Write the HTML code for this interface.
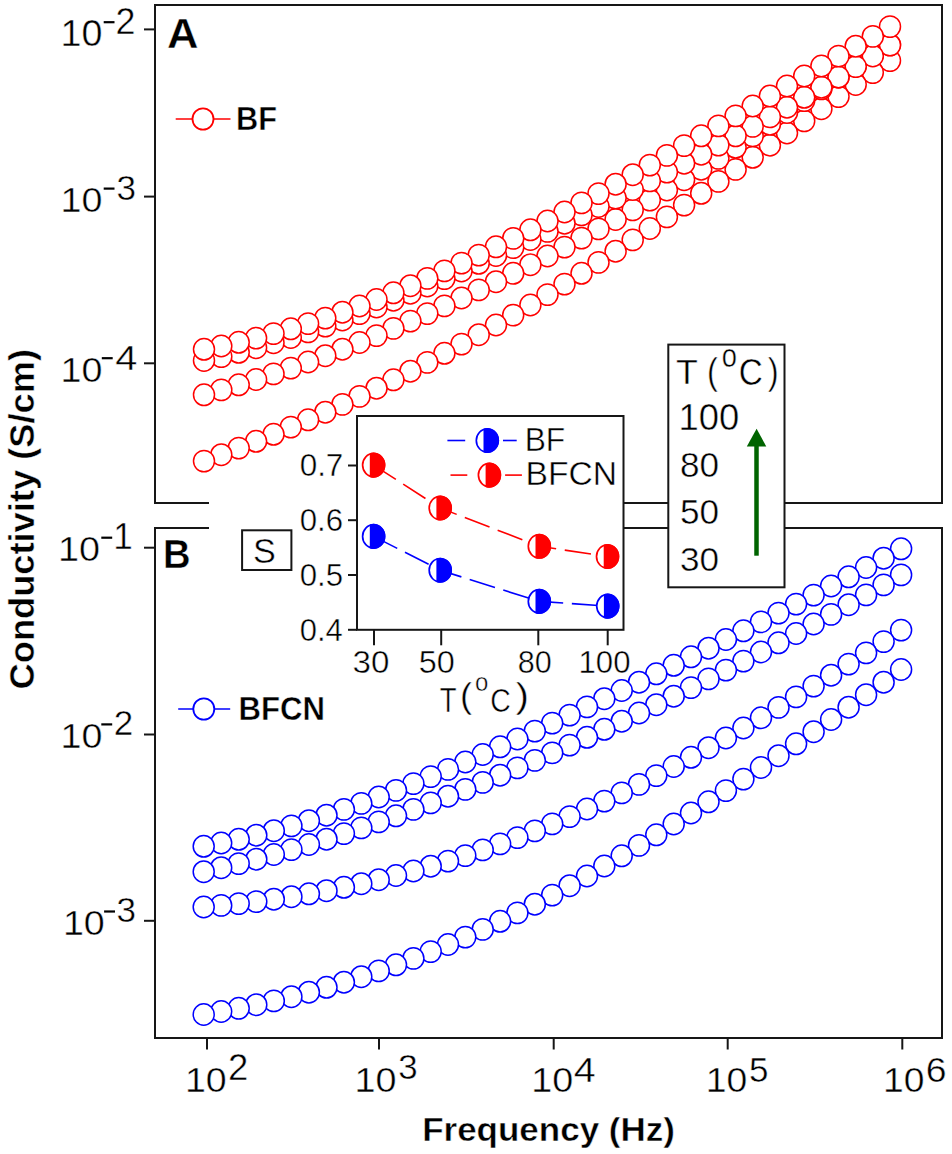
<!DOCTYPE html>
<html><head><meta charset="utf-8"><style>
html,body{margin:0;padding:0;background:#fff;}
svg{display:block;}
text{font-family:"Liberation Sans",sans-serif;stroke:#fff;stroke-width:0.45px;vector-effect:non-scaling-stroke;}
</style></head><body>
<svg width="952" height="1154" viewBox="0 0 952 1154">
<rect width="952" height="1154" fill="#fff"/>
<rect x="155" y="5" width="787" height="498" fill="none" stroke="#161616" stroke-width="2"/>
<rect x="155" y="528" width="787" height="510" fill="none" stroke="#161616" stroke-width="2"/>
<line x1="144" y1="29.4" x2="155" y2="29.4" stroke="#161616" stroke-width="2"/>
<line x1="144" y1="196.6" x2="155" y2="196.6" stroke="#161616" stroke-width="2"/>
<line x1="144" y1="363.3" x2="155" y2="363.3" stroke="#161616" stroke-width="2"/>
<line x1="144" y1="547.7" x2="155" y2="547.7" stroke="#161616" stroke-width="2"/>
<line x1="144" y1="734.5" x2="155" y2="734.5" stroke="#161616" stroke-width="2"/>
<line x1="144" y1="920.8" x2="155" y2="920.8" stroke="#161616" stroke-width="2"/>
<line x1="207" y1="1038" x2="207" y2="1049.5" stroke="#161616" stroke-width="2"/>
<line x1="379" y1="1038" x2="379" y2="1049.5" stroke="#161616" stroke-width="2"/>
<line x1="553.7" y1="1038" x2="553.7" y2="1049.5" stroke="#161616" stroke-width="2"/>
<line x1="727.7" y1="1038" x2="727.7" y2="1049.5" stroke="#161616" stroke-width="2"/>
<line x1="902.3" y1="1038" x2="902.3" y2="1049.5" stroke="#161616" stroke-width="2"/>
<rect x="209" y="480" width="148" height="70" fill="#fff" stroke="none" stroke-width="2"/>
<g fill="#fff" stroke="#f00" stroke-width="1.5">
<ellipse cx="890.0" cy="60.6" rx="10.5" ry="10.7"/>
<ellipse cx="872.8" cy="72.6" rx="10.5" ry="10.7"/>
<ellipse cx="855.7" cy="84.5" rx="10.5" ry="10.7"/>
<ellipse cx="838.5" cy="96.6" rx="10.5" ry="10.7"/>
<ellipse cx="821.4" cy="108.7" rx="10.5" ry="10.7"/>
<ellipse cx="804.2" cy="120.9" rx="10.5" ry="10.7"/>
<ellipse cx="787.0" cy="133.0" rx="10.5" ry="10.7"/>
<ellipse cx="769.9" cy="145.2" rx="10.5" ry="10.7"/>
<ellipse cx="752.7" cy="157.3" rx="10.5" ry="10.7"/>
<ellipse cx="735.6" cy="169.4" rx="10.5" ry="10.7"/>
<ellipse cx="718.4" cy="181.4" rx="10.5" ry="10.7"/>
<ellipse cx="701.2" cy="193.3" rx="10.5" ry="10.7"/>
<ellipse cx="684.1" cy="205.1" rx="10.5" ry="10.7"/>
<ellipse cx="666.9" cy="216.9" rx="10.5" ry="10.7"/>
<ellipse cx="649.8" cy="228.5" rx="10.5" ry="10.7"/>
<ellipse cx="632.7" cy="239.9" rx="10.5" ry="10.7"/>
<ellipse cx="615.6" cy="251.2" rx="10.5" ry="10.7"/>
<ellipse cx="598.5" cy="262.4" rx="10.5" ry="10.7"/>
<ellipse cx="581.5" cy="273.3" rx="10.5" ry="10.7"/>
<ellipse cx="564.5" cy="284.1" rx="10.5" ry="10.7"/>
<ellipse cx="547.5" cy="294.6" rx="10.5" ry="10.7"/>
<ellipse cx="530.4" cy="305.0" rx="10.5" ry="10.7"/>
<ellipse cx="513.2" cy="315.1" rx="10.5" ry="10.7"/>
<ellipse cx="496.0" cy="325.0" rx="10.5" ry="10.7"/>
<ellipse cx="478.7" cy="334.7" rx="10.5" ry="10.7"/>
<ellipse cx="461.5" cy="344.1" rx="10.5" ry="10.7"/>
<ellipse cx="444.4" cy="353.3" rx="10.5" ry="10.7"/>
<ellipse cx="427.3" cy="362.4" rx="10.5" ry="10.7"/>
<ellipse cx="410.4" cy="371.2" rx="10.5" ry="10.7"/>
<ellipse cx="393.4" cy="379.8" rx="10.5" ry="10.7"/>
<ellipse cx="376.5" cy="388.2" rx="10.5" ry="10.7"/>
<ellipse cx="359.5" cy="396.4" rx="10.5" ry="10.7"/>
<ellipse cx="342.4" cy="404.4" rx="10.5" ry="10.7"/>
<ellipse cx="325.3" cy="412.2" rx="10.5" ry="10.7"/>
<ellipse cx="308.1" cy="419.8" rx="10.5" ry="10.7"/>
<ellipse cx="290.8" cy="427.1" rx="10.5" ry="10.7"/>
<ellipse cx="273.5" cy="434.3" rx="10.5" ry="10.7"/>
<ellipse cx="256.1" cy="441.3" rx="10.5" ry="10.7"/>
<ellipse cx="238.7" cy="448.1" rx="10.5" ry="10.7"/>
<ellipse cx="221.3" cy="454.7" rx="10.5" ry="10.7"/>
<ellipse cx="204.0" cy="461.1" rx="10.5" ry="10.7"/>
<ellipse cx="890.0" cy="44.8" rx="10.5" ry="10.7"/>
<ellipse cx="872.8" cy="55.1" rx="10.5" ry="10.7"/>
<ellipse cx="855.7" cy="66.0" rx="10.5" ry="10.7"/>
<ellipse cx="838.5" cy="77.2" rx="10.5" ry="10.7"/>
<ellipse cx="821.4" cy="88.8" rx="10.5" ry="10.7"/>
<ellipse cx="804.2" cy="100.6" rx="10.5" ry="10.7"/>
<ellipse cx="787.0" cy="112.5" rx="10.5" ry="10.7"/>
<ellipse cx="769.9" cy="124.3" rx="10.5" ry="10.7"/>
<ellipse cx="752.7" cy="135.9" rx="10.5" ry="10.7"/>
<ellipse cx="735.6" cy="147.3" rx="10.5" ry="10.7"/>
<ellipse cx="718.4" cy="158.4" rx="10.5" ry="10.7"/>
<ellipse cx="701.2" cy="169.2" rx="10.5" ry="10.7"/>
<ellipse cx="684.1" cy="179.7" rx="10.5" ry="10.7"/>
<ellipse cx="666.9" cy="190.0" rx="10.5" ry="10.7"/>
<ellipse cx="649.8" cy="200.1" rx="10.5" ry="10.7"/>
<ellipse cx="632.7" cy="209.9" rx="10.5" ry="10.7"/>
<ellipse cx="615.6" cy="219.5" rx="10.5" ry="10.7"/>
<ellipse cx="598.5" cy="228.9" rx="10.5" ry="10.7"/>
<ellipse cx="581.5" cy="238.1" rx="10.5" ry="10.7"/>
<ellipse cx="564.5" cy="247.1" rx="10.5" ry="10.7"/>
<ellipse cx="547.5" cy="256.0" rx="10.5" ry="10.7"/>
<ellipse cx="530.4" cy="264.7" rx="10.5" ry="10.7"/>
<ellipse cx="513.2" cy="273.3" rx="10.5" ry="10.7"/>
<ellipse cx="496.0" cy="281.7" rx="10.5" ry="10.7"/>
<ellipse cx="478.7" cy="289.9" rx="10.5" ry="10.7"/>
<ellipse cx="461.5" cy="298.0" rx="10.5" ry="10.7"/>
<ellipse cx="444.4" cy="305.9" rx="10.5" ry="10.7"/>
<ellipse cx="427.3" cy="313.6" rx="10.5" ry="10.7"/>
<ellipse cx="410.4" cy="321.1" rx="10.5" ry="10.7"/>
<ellipse cx="393.4" cy="328.4" rx="10.5" ry="10.7"/>
<ellipse cx="376.5" cy="335.6" rx="10.5" ry="10.7"/>
<ellipse cx="359.5" cy="342.5" rx="10.5" ry="10.7"/>
<ellipse cx="342.4" cy="349.2" rx="10.5" ry="10.7"/>
<ellipse cx="325.3" cy="355.7" rx="10.5" ry="10.7"/>
<ellipse cx="308.1" cy="362.0" rx="10.5" ry="10.7"/>
<ellipse cx="290.8" cy="368.1" rx="10.5" ry="10.7"/>
<ellipse cx="273.5" cy="373.9" rx="10.5" ry="10.7"/>
<ellipse cx="256.1" cy="379.5" rx="10.5" ry="10.7"/>
<ellipse cx="238.7" cy="384.8" rx="10.5" ry="10.7"/>
<ellipse cx="221.3" cy="389.9" rx="10.5" ry="10.7"/>
<ellipse cx="204.0" cy="394.8" rx="10.5" ry="10.7"/>
<ellipse cx="890.0" cy="45.1" rx="10.5" ry="10.7"/>
<ellipse cx="872.8" cy="56.0" rx="10.5" ry="10.7"/>
<ellipse cx="855.7" cy="66.6" rx="10.5" ry="10.7"/>
<ellipse cx="838.5" cy="77.0" rx="10.5" ry="10.7"/>
<ellipse cx="821.4" cy="87.2" rx="10.5" ry="10.7"/>
<ellipse cx="804.2" cy="97.3" rx="10.5" ry="10.7"/>
<ellipse cx="787.0" cy="107.2" rx="10.5" ry="10.7"/>
<ellipse cx="769.9" cy="116.9" rx="10.5" ry="10.7"/>
<ellipse cx="752.7" cy="126.4" rx="10.5" ry="10.7"/>
<ellipse cx="735.6" cy="135.8" rx="10.5" ry="10.7"/>
<ellipse cx="718.4" cy="145.1" rx="10.5" ry="10.7"/>
<ellipse cx="701.2" cy="154.2" rx="10.5" ry="10.7"/>
<ellipse cx="684.1" cy="163.2" rx="10.5" ry="10.7"/>
<ellipse cx="666.9" cy="172.1" rx="10.5" ry="10.7"/>
<ellipse cx="649.8" cy="180.9" rx="10.5" ry="10.7"/>
<ellipse cx="632.7" cy="189.5" rx="10.5" ry="10.7"/>
<ellipse cx="615.6" cy="198.1" rx="10.5" ry="10.7"/>
<ellipse cx="598.5" cy="206.5" rx="10.5" ry="10.7"/>
<ellipse cx="581.5" cy="214.9" rx="10.5" ry="10.7"/>
<ellipse cx="564.5" cy="223.2" rx="10.5" ry="10.7"/>
<ellipse cx="547.5" cy="231.4" rx="10.5" ry="10.7"/>
<ellipse cx="530.4" cy="239.5" rx="10.5" ry="10.7"/>
<ellipse cx="513.2" cy="247.6" rx="10.5" ry="10.7"/>
<ellipse cx="496.0" cy="255.5" rx="10.5" ry="10.7"/>
<ellipse cx="478.7" cy="263.3" rx="10.5" ry="10.7"/>
<ellipse cx="461.5" cy="271.0" rx="10.5" ry="10.7"/>
<ellipse cx="444.4" cy="278.6" rx="10.5" ry="10.7"/>
<ellipse cx="427.3" cy="286.0" rx="10.5" ry="10.7"/>
<ellipse cx="410.4" cy="293.2" rx="10.5" ry="10.7"/>
<ellipse cx="393.4" cy="300.2" rx="10.5" ry="10.7"/>
<ellipse cx="376.5" cy="307.0" rx="10.5" ry="10.7"/>
<ellipse cx="359.5" cy="313.6" rx="10.5" ry="10.7"/>
<ellipse cx="342.4" cy="320.0" rx="10.5" ry="10.7"/>
<ellipse cx="325.3" cy="326.1" rx="10.5" ry="10.7"/>
<ellipse cx="308.1" cy="331.9" rx="10.5" ry="10.7"/>
<ellipse cx="290.8" cy="337.5" rx="10.5" ry="10.7"/>
<ellipse cx="273.5" cy="342.7" rx="10.5" ry="10.7"/>
<ellipse cx="256.1" cy="347.7" rx="10.5" ry="10.7"/>
<ellipse cx="238.7" cy="352.3" rx="10.5" ry="10.7"/>
<ellipse cx="221.3" cy="356.6" rx="10.5" ry="10.7"/>
<ellipse cx="204.0" cy="360.5" rx="10.5" ry="10.7"/>
<ellipse cx="890.0" cy="26.6" rx="10.5" ry="10.7"/>
<ellipse cx="872.8" cy="36.4" rx="10.5" ry="10.7"/>
<ellipse cx="855.7" cy="46.2" rx="10.5" ry="10.7"/>
<ellipse cx="838.5" cy="56.1" rx="10.5" ry="10.7"/>
<ellipse cx="821.4" cy="66.0" rx="10.5" ry="10.7"/>
<ellipse cx="804.2" cy="76.0" rx="10.5" ry="10.7"/>
<ellipse cx="787.0" cy="86.0" rx="10.5" ry="10.7"/>
<ellipse cx="769.9" cy="96.0" rx="10.5" ry="10.7"/>
<ellipse cx="752.7" cy="106.0" rx="10.5" ry="10.7"/>
<ellipse cx="735.6" cy="115.9" rx="10.5" ry="10.7"/>
<ellipse cx="718.4" cy="125.9" rx="10.5" ry="10.7"/>
<ellipse cx="701.2" cy="135.8" rx="10.5" ry="10.7"/>
<ellipse cx="684.1" cy="145.6" rx="10.5" ry="10.7"/>
<ellipse cx="666.9" cy="155.4" rx="10.5" ry="10.7"/>
<ellipse cx="649.8" cy="165.1" rx="10.5" ry="10.7"/>
<ellipse cx="632.7" cy="174.7" rx="10.5" ry="10.7"/>
<ellipse cx="615.6" cy="184.2" rx="10.5" ry="10.7"/>
<ellipse cx="598.5" cy="193.6" rx="10.5" ry="10.7"/>
<ellipse cx="581.5" cy="202.9" rx="10.5" ry="10.7"/>
<ellipse cx="564.5" cy="212.0" rx="10.5" ry="10.7"/>
<ellipse cx="547.5" cy="221.0" rx="10.5" ry="10.7"/>
<ellipse cx="530.4" cy="229.8" rx="10.5" ry="10.7"/>
<ellipse cx="513.2" cy="238.4" rx="10.5" ry="10.7"/>
<ellipse cx="496.0" cy="246.8" rx="10.5" ry="10.7"/>
<ellipse cx="478.7" cy="255.1" rx="10.5" ry="10.7"/>
<ellipse cx="461.5" cy="263.1" rx="10.5" ry="10.7"/>
<ellipse cx="444.4" cy="270.9" rx="10.5" ry="10.7"/>
<ellipse cx="427.3" cy="278.4" rx="10.5" ry="10.7"/>
<ellipse cx="410.4" cy="285.7" rx="10.5" ry="10.7"/>
<ellipse cx="393.4" cy="292.8" rx="10.5" ry="10.7"/>
<ellipse cx="376.5" cy="299.5" rx="10.5" ry="10.7"/>
<ellipse cx="359.5" cy="306.0" rx="10.5" ry="10.7"/>
<ellipse cx="342.4" cy="312.2" rx="10.5" ry="10.7"/>
<ellipse cx="325.3" cy="318.1" rx="10.5" ry="10.7"/>
<ellipse cx="308.1" cy="323.6" rx="10.5" ry="10.7"/>
<ellipse cx="290.8" cy="328.8" rx="10.5" ry="10.7"/>
<ellipse cx="273.5" cy="333.6" rx="10.5" ry="10.7"/>
<ellipse cx="256.1" cy="338.1" rx="10.5" ry="10.7"/>
<ellipse cx="238.7" cy="342.3" rx="10.5" ry="10.7"/>
<ellipse cx="221.3" cy="346.0" rx="10.5" ry="10.7"/>
<ellipse cx="204.0" cy="349.3" rx="10.5" ry="10.7"/>
</g>
<g fill="#fff" stroke="#00f" stroke-width="1.5">
<ellipse cx="901.1" cy="669.5" rx="10.5" ry="10.7"/>
<ellipse cx="883.6" cy="682.2" rx="10.5" ry="10.7"/>
<ellipse cx="866.1" cy="694.7" rx="10.5" ry="10.7"/>
<ellipse cx="848.6" cy="707.2" rx="10.5" ry="10.7"/>
<ellipse cx="831.1" cy="719.5" rx="10.5" ry="10.7"/>
<ellipse cx="813.6" cy="731.7" rx="10.5" ry="10.7"/>
<ellipse cx="796.1" cy="743.8" rx="10.5" ry="10.7"/>
<ellipse cx="778.5" cy="755.7" rx="10.5" ry="10.7"/>
<ellipse cx="761.0" cy="767.5" rx="10.5" ry="10.7"/>
<ellipse cx="743.4" cy="779.1" rx="10.5" ry="10.7"/>
<ellipse cx="725.9" cy="790.6" rx="10.5" ry="10.7"/>
<ellipse cx="708.5" cy="801.8" rx="10.5" ry="10.7"/>
<ellipse cx="691.0" cy="813.0" rx="10.5" ry="10.7"/>
<ellipse cx="673.7" cy="824.0" rx="10.5" ry="10.7"/>
<ellipse cx="656.3" cy="834.8" rx="10.5" ry="10.7"/>
<ellipse cx="639.0" cy="845.4" rx="10.5" ry="10.7"/>
<ellipse cx="621.7" cy="855.8" rx="10.5" ry="10.7"/>
<ellipse cx="604.3" cy="866.0" rx="10.5" ry="10.7"/>
<ellipse cx="587.0" cy="876.0" rx="10.5" ry="10.7"/>
<ellipse cx="569.6" cy="885.7" rx="10.5" ry="10.7"/>
<ellipse cx="552.2" cy="895.1" rx="10.5" ry="10.7"/>
<ellipse cx="534.8" cy="904.2" rx="10.5" ry="10.7"/>
<ellipse cx="517.4" cy="912.9" rx="10.5" ry="10.7"/>
<ellipse cx="500.1" cy="921.3" rx="10.5" ry="10.7"/>
<ellipse cx="482.7" cy="929.4" rx="10.5" ry="10.7"/>
<ellipse cx="465.3" cy="937.1" rx="10.5" ry="10.7"/>
<ellipse cx="448.0" cy="944.5" rx="10.5" ry="10.7"/>
<ellipse cx="430.7" cy="951.6" rx="10.5" ry="10.7"/>
<ellipse cx="413.4" cy="958.4" rx="10.5" ry="10.7"/>
<ellipse cx="396.0" cy="964.8" rx="10.5" ry="10.7"/>
<ellipse cx="378.7" cy="970.9" rx="10.5" ry="10.7"/>
<ellipse cx="361.3" cy="976.7" rx="10.5" ry="10.7"/>
<ellipse cx="343.9" cy="982.2" rx="10.5" ry="10.7"/>
<ellipse cx="326.5" cy="987.3" rx="10.5" ry="10.7"/>
<ellipse cx="308.9" cy="992.2" rx="10.5" ry="10.7"/>
<ellipse cx="291.4" cy="996.7" rx="10.5" ry="10.7"/>
<ellipse cx="273.8" cy="1000.9" rx="10.5" ry="10.7"/>
<ellipse cx="256.3" cy="1004.7" rx="10.5" ry="10.7"/>
<ellipse cx="238.7" cy="1008.3" rx="10.5" ry="10.7"/>
<ellipse cx="221.2" cy="1011.5" rx="10.5" ry="10.7"/>
<ellipse cx="203.7" cy="1014.5" rx="10.5" ry="10.7"/>
<ellipse cx="901.1" cy="630.1" rx="10.5" ry="10.7"/>
<ellipse cx="883.6" cy="641.6" rx="10.5" ry="10.7"/>
<ellipse cx="866.1" cy="652.9" rx="10.5" ry="10.7"/>
<ellipse cx="848.6" cy="664.1" rx="10.5" ry="10.7"/>
<ellipse cx="831.1" cy="675.2" rx="10.5" ry="10.7"/>
<ellipse cx="813.6" cy="686.1" rx="10.5" ry="10.7"/>
<ellipse cx="796.1" cy="696.9" rx="10.5" ry="10.7"/>
<ellipse cx="778.5" cy="707.4" rx="10.5" ry="10.7"/>
<ellipse cx="761.0" cy="717.8" rx="10.5" ry="10.7"/>
<ellipse cx="743.4" cy="728.0" rx="10.5" ry="10.7"/>
<ellipse cx="725.9" cy="738.0" rx="10.5" ry="10.7"/>
<ellipse cx="708.5" cy="747.7" rx="10.5" ry="10.7"/>
<ellipse cx="691.0" cy="757.3" rx="10.5" ry="10.7"/>
<ellipse cx="673.7" cy="766.5" rx="10.5" ry="10.7"/>
<ellipse cx="656.3" cy="775.6" rx="10.5" ry="10.7"/>
<ellipse cx="639.0" cy="784.4" rx="10.5" ry="10.7"/>
<ellipse cx="621.7" cy="792.9" rx="10.5" ry="10.7"/>
<ellipse cx="604.3" cy="801.1" rx="10.5" ry="10.7"/>
<ellipse cx="587.0" cy="809.0" rx="10.5" ry="10.7"/>
<ellipse cx="569.6" cy="816.6" rx="10.5" ry="10.7"/>
<ellipse cx="552.2" cy="823.9" rx="10.5" ry="10.7"/>
<ellipse cx="534.8" cy="830.9" rx="10.5" ry="10.7"/>
<ellipse cx="517.4" cy="837.6" rx="10.5" ry="10.7"/>
<ellipse cx="500.1" cy="843.9" rx="10.5" ry="10.7"/>
<ellipse cx="482.7" cy="849.9" rx="10.5" ry="10.7"/>
<ellipse cx="465.3" cy="855.6" rx="10.5" ry="10.7"/>
<ellipse cx="448.0" cy="861.1" rx="10.5" ry="10.7"/>
<ellipse cx="430.7" cy="866.2" rx="10.5" ry="10.7"/>
<ellipse cx="413.4" cy="871.0" rx="10.5" ry="10.7"/>
<ellipse cx="396.0" cy="875.5" rx="10.5" ry="10.7"/>
<ellipse cx="378.7" cy="879.7" rx="10.5" ry="10.7"/>
<ellipse cx="361.3" cy="883.7" rx="10.5" ry="10.7"/>
<ellipse cx="343.9" cy="887.3" rx="10.5" ry="10.7"/>
<ellipse cx="326.5" cy="890.7" rx="10.5" ry="10.7"/>
<ellipse cx="308.9" cy="893.8" rx="10.5" ry="10.7"/>
<ellipse cx="291.4" cy="896.7" rx="10.5" ry="10.7"/>
<ellipse cx="273.8" cy="899.2" rx="10.5" ry="10.7"/>
<ellipse cx="256.3" cy="901.6" rx="10.5" ry="10.7"/>
<ellipse cx="238.7" cy="903.6" rx="10.5" ry="10.7"/>
<ellipse cx="221.2" cy="905.4" rx="10.5" ry="10.7"/>
<ellipse cx="203.7" cy="907.0" rx="10.5" ry="10.7"/>
<ellipse cx="901.1" cy="574.9" rx="10.5" ry="10.7"/>
<ellipse cx="883.6" cy="584.9" rx="10.5" ry="10.7"/>
<ellipse cx="866.1" cy="594.9" rx="10.5" ry="10.7"/>
<ellipse cx="848.6" cy="604.7" rx="10.5" ry="10.7"/>
<ellipse cx="831.1" cy="614.4" rx="10.5" ry="10.7"/>
<ellipse cx="813.6" cy="624.0" rx="10.5" ry="10.7"/>
<ellipse cx="796.1" cy="633.5" rx="10.5" ry="10.7"/>
<ellipse cx="778.5" cy="642.8" rx="10.5" ry="10.7"/>
<ellipse cx="761.0" cy="652.0" rx="10.5" ry="10.7"/>
<ellipse cx="743.4" cy="661.1" rx="10.5" ry="10.7"/>
<ellipse cx="725.9" cy="670.1" rx="10.5" ry="10.7"/>
<ellipse cx="708.5" cy="678.9" rx="10.5" ry="10.7"/>
<ellipse cx="691.0" cy="687.6" rx="10.5" ry="10.7"/>
<ellipse cx="673.7" cy="696.2" rx="10.5" ry="10.7"/>
<ellipse cx="656.3" cy="704.7" rx="10.5" ry="10.7"/>
<ellipse cx="639.0" cy="713.0" rx="10.5" ry="10.7"/>
<ellipse cx="621.7" cy="721.2" rx="10.5" ry="10.7"/>
<ellipse cx="604.3" cy="729.3" rx="10.5" ry="10.7"/>
<ellipse cx="587.0" cy="737.3" rx="10.5" ry="10.7"/>
<ellipse cx="569.6" cy="745.1" rx="10.5" ry="10.7"/>
<ellipse cx="552.2" cy="752.9" rx="10.5" ry="10.7"/>
<ellipse cx="534.8" cy="760.4" rx="10.5" ry="10.7"/>
<ellipse cx="517.4" cy="767.9" rx="10.5" ry="10.7"/>
<ellipse cx="500.1" cy="775.2" rx="10.5" ry="10.7"/>
<ellipse cx="482.7" cy="782.4" rx="10.5" ry="10.7"/>
<ellipse cx="465.3" cy="789.4" rx="10.5" ry="10.7"/>
<ellipse cx="448.0" cy="796.2" rx="10.5" ry="10.7"/>
<ellipse cx="430.7" cy="802.9" rx="10.5" ry="10.7"/>
<ellipse cx="413.4" cy="809.4" rx="10.5" ry="10.7"/>
<ellipse cx="396.0" cy="815.8" rx="10.5" ry="10.7"/>
<ellipse cx="378.7" cy="821.9" rx="10.5" ry="10.7"/>
<ellipse cx="361.3" cy="827.9" rx="10.5" ry="10.7"/>
<ellipse cx="343.9" cy="833.6" rx="10.5" ry="10.7"/>
<ellipse cx="326.5" cy="839.2" rx="10.5" ry="10.7"/>
<ellipse cx="308.9" cy="844.5" rx="10.5" ry="10.7"/>
<ellipse cx="291.4" cy="849.6" rx="10.5" ry="10.7"/>
<ellipse cx="273.8" cy="854.5" rx="10.5" ry="10.7"/>
<ellipse cx="256.3" cy="859.2" rx="10.5" ry="10.7"/>
<ellipse cx="238.7" cy="863.6" rx="10.5" ry="10.7"/>
<ellipse cx="221.2" cy="867.7" rx="10.5" ry="10.7"/>
<ellipse cx="203.7" cy="871.7" rx="10.5" ry="10.7"/>
<ellipse cx="901.1" cy="548.8" rx="10.5" ry="10.7"/>
<ellipse cx="883.6" cy="558.2" rx="10.5" ry="10.7"/>
<ellipse cx="866.1" cy="567.5" rx="10.5" ry="10.7"/>
<ellipse cx="848.6" cy="576.8" rx="10.5" ry="10.7"/>
<ellipse cx="831.1" cy="586.0" rx="10.5" ry="10.7"/>
<ellipse cx="813.6" cy="595.1" rx="10.5" ry="10.7"/>
<ellipse cx="796.1" cy="604.1" rx="10.5" ry="10.7"/>
<ellipse cx="778.5" cy="613.1" rx="10.5" ry="10.7"/>
<ellipse cx="761.0" cy="621.9" rx="10.5" ry="10.7"/>
<ellipse cx="743.4" cy="630.8" rx="10.5" ry="10.7"/>
<ellipse cx="725.9" cy="639.5" rx="10.5" ry="10.7"/>
<ellipse cx="708.5" cy="648.2" rx="10.5" ry="10.7"/>
<ellipse cx="691.0" cy="656.8" rx="10.5" ry="10.7"/>
<ellipse cx="673.7" cy="665.3" rx="10.5" ry="10.7"/>
<ellipse cx="656.3" cy="673.8" rx="10.5" ry="10.7"/>
<ellipse cx="639.0" cy="682.2" rx="10.5" ry="10.7"/>
<ellipse cx="621.7" cy="690.5" rx="10.5" ry="10.7"/>
<ellipse cx="604.3" cy="698.7" rx="10.5" ry="10.7"/>
<ellipse cx="587.0" cy="706.9" rx="10.5" ry="10.7"/>
<ellipse cx="569.6" cy="715.1" rx="10.5" ry="10.7"/>
<ellipse cx="552.2" cy="723.1" rx="10.5" ry="10.7"/>
<ellipse cx="534.8" cy="731.1" rx="10.5" ry="10.7"/>
<ellipse cx="517.4" cy="739.0" rx="10.5" ry="10.7"/>
<ellipse cx="500.1" cy="746.8" rx="10.5" ry="10.7"/>
<ellipse cx="482.7" cy="754.5" rx="10.5" ry="10.7"/>
<ellipse cx="465.3" cy="762.0" rx="10.5" ry="10.7"/>
<ellipse cx="448.0" cy="769.4" rx="10.5" ry="10.7"/>
<ellipse cx="430.7" cy="776.6" rx="10.5" ry="10.7"/>
<ellipse cx="413.4" cy="783.6" rx="10.5" ry="10.7"/>
<ellipse cx="396.0" cy="790.4" rx="10.5" ry="10.7"/>
<ellipse cx="378.7" cy="797.0" rx="10.5" ry="10.7"/>
<ellipse cx="361.3" cy="803.4" rx="10.5" ry="10.7"/>
<ellipse cx="343.9" cy="809.4" rx="10.5" ry="10.7"/>
<ellipse cx="326.5" cy="815.2" rx="10.5" ry="10.7"/>
<ellipse cx="308.9" cy="820.7" rx="10.5" ry="10.7"/>
<ellipse cx="291.4" cy="825.9" rx="10.5" ry="10.7"/>
<ellipse cx="273.8" cy="830.7" rx="10.5" ry="10.7"/>
<ellipse cx="256.3" cy="835.2" rx="10.5" ry="10.7"/>
<ellipse cx="238.7" cy="839.3" rx="10.5" ry="10.7"/>
<ellipse cx="221.2" cy="843.0" rx="10.5" ry="10.7"/>
<ellipse cx="203.7" cy="846.3" rx="10.5" ry="10.7"/>
</g>
<text transform="matrix(0.4364,0,0,0.4229,167.09,48.30)" font-size="100" font-weight="bold" fill="#000">A</text>
<text transform="matrix(0.3820,0,0,0.4116,163.03,567.90)" font-size="100" font-weight="bold" fill="#000">B</text>
<g stroke="#f00" stroke-width="1.8" fill="none">
<line x1="175.7" y1="119" x2="192.5" y2="119" stroke="#f00" stroke-width="1.5"/>
<line x1="213.5" y1="119" x2="230.5" y2="119" stroke="#f00" stroke-width="1.5"/>
<ellipse cx="203" cy="119" rx="10.5" ry="10.7"/>
</g>
<text transform="matrix(0.3073,0,0,0.3386,235.95,129.66)" font-size="100" font-weight="bold" fill="#000">BF</text>
<g stroke="#00f" stroke-width="1.8" fill="none">
<line x1="178.2" y1="709" x2="193.5" y2="709" stroke="#00f" stroke-width="1.5"/>
<line x1="214.5" y1="709" x2="230.2" y2="709" stroke="#00f" stroke-width="1.5"/>
<ellipse cx="203.8" cy="709" rx="10.5" ry="10.7"/>
</g>
<text transform="matrix(0.3117,0,0,0.3352,238.42,720.16)" font-size="100" font-weight="bold" fill="#000">BFCN</text>
<text transform="matrix(0.3768,0,0,0.3662,60.49,45.93)" font-size="100" fill="#000">10</text>
<rect x="103.7" y="21.099999999999998" width="10.799999999999997" height="2.2" fill="#000" stroke="none" stroke-width="2"/>
<text transform="matrix(0.3587,0,0,0.3657,115.61,33.60)" font-size="100" fill="#000">2</text>
<text transform="matrix(0.3768,0,0,0.3592,60.49,212.34)" font-size="100" fill="#000">10</text>
<rect x="103.7" y="187.5" width="10.799999999999997" height="2.2" fill="#000" stroke="none" stroke-width="2"/>
<text transform="matrix(0.3511,0,0,0.3592,116.50,200.04)" font-size="100" fill="#000">3</text>
<text transform="matrix(0.3768,0,0,0.3535,60.49,381.95)" font-size="100" fill="#000">10</text>
<rect x="101.8" y="357.09999999999997" width="10.900000000000006" height="2.2" fill="#000" stroke="none" stroke-width="2"/>
<text transform="matrix(0.3980,0,0,0.3514,115.20,369.50)" font-size="100" fill="#000">4</text>
<text transform="matrix(0.3778,0,0,0.3592,58.08,561.44)" font-size="100" fill="#000">10</text>
<rect x="101.3" y="536.6" width="10.900000000000006" height="2.2" fill="#000" stroke="none" stroke-width="2"/>
<text transform="matrix(0.3512,0,0,0.3623,113.19,549.00)" font-size="100" fill="#000">1</text>
<text transform="matrix(0.3768,0,0,0.3521,60.49,747.85)" font-size="100" fill="#000">10</text>
<rect x="101.3" y="723.3" width="10.900000000000006" height="2.2" fill="#000" stroke="none" stroke-width="2"/>
<text transform="matrix(0.3500,0,0,0.3500,113.75,735.40)" font-size="100" fill="#000">2</text>
<text transform="matrix(0.3768,0,0,0.3535,62.89,934.75)" font-size="100" fill="#000">10</text>
<rect x="104.1" y="910.4" width="10.900000000000006" height="2.2" fill="#000" stroke="none" stroke-width="2"/>
<text transform="matrix(0.3511,0,0,0.3592,116.50,922.44)" font-size="100" fill="#000">3</text>
<text transform="matrix(0.3758,0,0,0.3563,184.89,1091.74)" font-size="100" fill="#000">10</text>
<text transform="matrix(0.3652,0,0,0.3671,228.07,1080.40)" font-size="100" fill="#000">2</text>
<text transform="matrix(0.3778,0,0,0.3563,354.58,1091.74)" font-size="100" fill="#000">10</text>
<text transform="matrix(0.3489,0,0,0.3493,398.20,1079.15)" font-size="100" fill="#000">3</text>
<text transform="matrix(0.3778,0,0,0.3563,531.18,1091.74)" font-size="100" fill="#000">10</text>
<text transform="matrix(0.3941,0,0,0.3543,573.81,1082.00)" font-size="100" fill="#000">4</text>
<text transform="matrix(0.3737,0,0,0.3563,705.81,1091.74)" font-size="100" fill="#000">10</text>
<text transform="matrix(0.3500,0,0,0.3543,749.00,1081.65)" font-size="100" fill="#000">5</text>
<text transform="matrix(0.3727,0,0,0.3563,882.92,1091.74)" font-size="100" fill="#000">10</text>
<text transform="matrix(0.3739,0,0,0.3549,925.63,1081.65)" font-size="100" fill="#000">6</text>
<text transform="matrix(0.3501,0,0,0.3406,422.15,1141.00)" font-size="100" font-weight="bold" fill="#000">Frequency (Hz)</text>
<text transform="matrix(0,-0.3626,0.3594,0,33.80,689.45)" font-size="100" font-weight="bold">Conductivity (S/cm)</text>
<rect x="242.1" y="530.3" width="49.3" height="39.7" fill="#fff" stroke="#161616" stroke-width="2"/>
<text transform="matrix(0.3421,0,0,0.3479,252.89,563.45)" font-size="100" fill="#000">S</text>
<rect x="357" y="416" width="266.5" height="213.8" fill="#fff" stroke="#161616" stroke-width="2"/>
<line x1="348" y1="465.5" x2="357" y2="465.5" stroke="#161616" stroke-width="2"/>
<line x1="348" y1="520.2" x2="357" y2="520.2" stroke="#161616" stroke-width="2"/>
<line x1="348" y1="575" x2="357" y2="575" stroke="#161616" stroke-width="2"/>
<line x1="348" y1="629.8" x2="357" y2="629.8" stroke="#161616" stroke-width="2"/>
<line x1="374" y1="629.8" x2="374" y2="645.3" stroke="#161616" stroke-width="2"/>
<line x1="441.2" y1="629.8" x2="441.2" y2="645.3" stroke="#161616" stroke-width="2"/>
<line x1="538.3" y1="629.8" x2="538.3" y2="645.3" stroke="#161616" stroke-width="2"/>
<line x1="607.7" y1="629.8" x2="607.7" y2="645.3" stroke="#161616" stroke-width="2"/>
<text transform="matrix(0.3146,0,0,0.3127,299.64,476.29)" font-size="100" fill="#000">0.7</text>
<text transform="matrix(0.3122,0,0,0.3127,299.65,530.99)" font-size="100" fill="#000">0.6</text>
<text transform="matrix(0.3122,0,0,0.3127,299.65,585.99)" font-size="100" fill="#000">0.5</text>
<text transform="matrix(0.3098,0,0,0.3127,299.66,640.89)" font-size="100" fill="#000">0.4</text>
<text transform="matrix(0.3311,0,0,0.3141,352.48,673.19)" font-size="100" fill="#000">30</text>
<text transform="matrix(0.3243,0,0,0.3141,418.70,673.19)" font-size="100" fill="#000">50</text>
<text transform="matrix(0.3058,0,0,0.3141,517.78,673.19)" font-size="100" fill="#000">80</text>
<text transform="matrix(0.3116,0,0,0.3141,578.51,673.19)" font-size="100" fill="#000">100</text>
<text transform="matrix(0.2754,0,0,0.3429,439.75,712.16)" font-size="100" fill="#000">T</text>
<text transform="matrix(0.3654,0,0,0.3468,460.11,708.32)" font-size="100" fill="#000">(</text>
<text transform="matrix(0.2396,0,0,0.2491,475.04,691.25)" font-size="100" fill="#000">o</text>
<text transform="matrix(0.2841,0,0,0.3408,490.28,712.16)" font-size="100" fill="#000">C</text>
<text transform="matrix(0.4038,0,0,0.3468,515.50,708.32)" font-size="100" fill="#000">)</text>
<path d="M373.6,465.1 L440.2,508.0 L539.3,546.3 L607.5,556.5" fill="none" stroke="#f00" stroke-width="1.6" stroke-dasharray="26.5 8.7"/>
<ellipse cx="373.6" cy="465.1" rx="11.0" ry="11.7" fill="#fff" stroke="#f00" stroke-width="1.7"/>
<path d="M370.60,453.84 A11.0,11.7 0 1 1 370.60,476.36 Z" fill="#f00" stroke="#f00" stroke-width="1.6"/>
<ellipse cx="440.2" cy="508.0" rx="11.0" ry="11.7" fill="#fff" stroke="#f00" stroke-width="1.7"/>
<path d="M437.20,496.74 A11.0,11.7 0 1 1 437.20,519.26 Z" fill="#f00" stroke="#f00" stroke-width="1.6"/>
<ellipse cx="539.3" cy="546.3" rx="11.0" ry="11.7" fill="#fff" stroke="#f00" stroke-width="1.7"/>
<path d="M536.30,535.04 A11.0,11.7 0 1 1 536.30,557.56 Z" fill="#f00" stroke="#f00" stroke-width="1.6"/>
<ellipse cx="607.5" cy="556.5" rx="11.0" ry="11.7" fill="#fff" stroke="#f00" stroke-width="1.7"/>
<path d="M604.50,545.24 A11.0,11.7 0 1 1 604.50,567.76 Z" fill="#f00" stroke="#f00" stroke-width="1.6"/>
<path d="M373.6,536.4 L440.2,570.2 L539.3,601.4 L607.7,606.1" fill="none" stroke="#00f" stroke-width="1.6" stroke-dasharray="26.5 8.7"/>
<ellipse cx="373.6" cy="536.4" rx="11.0" ry="11.7" fill="#fff" stroke="#00f" stroke-width="1.7"/>
<path d="M370.60,525.14 A11.0,11.7 0 1 1 370.60,547.66 Z" fill="#00f" stroke="#00f" stroke-width="1.6"/>
<ellipse cx="440.2" cy="570.2" rx="11.0" ry="11.7" fill="#fff" stroke="#00f" stroke-width="1.7"/>
<path d="M437.20,558.94 A11.0,11.7 0 1 1 437.20,581.46 Z" fill="#00f" stroke="#00f" stroke-width="1.6"/>
<ellipse cx="539.3" cy="601.4" rx="11.0" ry="11.7" fill="#fff" stroke="#00f" stroke-width="1.7"/>
<path d="M536.30,590.14 A11.0,11.7 0 1 1 536.30,612.66 Z" fill="#00f" stroke="#00f" stroke-width="1.6"/>
<ellipse cx="607.7" cy="606.1" rx="11.0" ry="11.7" fill="#fff" stroke="#00f" stroke-width="1.7"/>
<path d="M604.70,594.84 A11.0,11.7 0 1 1 604.70,617.36 Z" fill="#00f" stroke="#00f" stroke-width="1.6"/>
<line x1="447.4" y1="440.5" x2="465.2" y2="440.5" stroke="#00f" stroke-width="1.6"/>
<line x1="503" y1="440.5" x2="516.7" y2="440.5" stroke="#00f" stroke-width="1.6"/>
<ellipse cx="487.3" cy="440.5" rx="11.0" ry="11.7" fill="#fff" stroke="#00f" stroke-width="1.7"/>
<path d="M484.30,429.24 A11.0,11.7 0 1 1 484.30,451.76 Z" fill="#00f" stroke="#00f" stroke-width="1.6"/>
<text transform="matrix(0.3172,0,0,0.3348,524.66,451.00)" font-size="100" fill="#000">BF</text>
<line x1="450.5" y1="475.1" x2="467.3" y2="475.1" stroke="#f00" stroke-width="1.6"/>
<line x1="505.1" y1="475.1" x2="521.9" y2="475.1" stroke="#f00" stroke-width="1.6"/>
<ellipse cx="489.4" cy="475.1" rx="11.0" ry="11.7" fill="#fff" stroke="#f00" stroke-width="1.7"/>
<path d="M486.40,463.84 A11.0,11.7 0 1 1 486.40,486.36 Z" fill="#f00" stroke="#f00" stroke-width="1.6"/>
<text transform="matrix(0.3367,0,0,0.3254,525.51,485.27)" font-size="100" fill="#000">BFCN</text>
<rect x="668.3" y="344.6" width="116.2" height="242.7" fill="#fff" stroke="#161616" stroke-width="2"/>
<text transform="matrix(0.3579,0,0,0.3600,676.08,384.24)" font-size="100" fill="#000">T</text>
<text transform="matrix(0.3269,0,0,0.3638,707.04,384.26)" font-size="100" fill="#000">(</text>
<text transform="matrix(0.2729,0,0,0.3236,721.71,367.28)" font-size="100" fill="#000">o</text>
<text transform="matrix(0.3333,0,0,0.3704,738.83,384.93)" font-size="100" fill="#000">C</text>
<text transform="matrix(0.3269,0,0,0.3638,767.77,384.26)" font-size="100" fill="#000">)</text>
<text transform="matrix(0.3645,0,0,0.3606,678.48,429.54)" font-size="100" fill="#000">100</text>
<text transform="matrix(0.3515,0,0,0.3465,679.99,477.05)" font-size="100" fill="#000">80</text>
<text transform="matrix(0.3515,0,0,0.3465,679.99,523.85)" font-size="100" fill="#000">50</text>
<text transform="matrix(0.3515,0,0,0.3310,679.99,570.67)" font-size="100" fill="#000">30</text>
<line x1="756.5" y1="555.7" x2="756.5" y2="444" stroke="#006400" stroke-width="4.5"/>
<path d="M756.6,428.8 L766.3,446.5 L746.8,446.5 Z" fill="#006400"/>
</svg>
</body></html>
